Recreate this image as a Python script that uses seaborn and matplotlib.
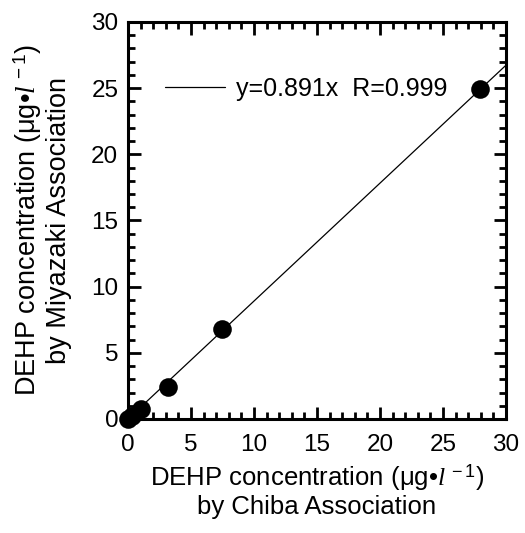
import matplotlib
matplotlib.use("Agg")
import matplotlib.pyplot as plt
import seaborn as sns
import numpy as np
import pandas as pd
from matplotlib.ticker import MultipleLocator

chiba = [0.0, 0.3, 1.0, 3.2, 7.5, 27.9]
miyazaki = [0.0, 0.25, 0.75, 2.45, 6.8, 24.9]
slope = 0.891
fit_x = [0.0, 30.0]
legend_label = "y=0.891x  R=0.999"
ticks = [0, 5, 10, 15, 20, 25, 30]

sns.set_theme(style="ticks")
plt.rcParams['font.family'] = ['Liberation Sans', 'DejaVu Sans']
plt.rcParams['mathtext.fontset'] = 'custom'
plt.rcParams['mathtext.rm'] = 'Liberation Sans'
plt.rcParams['mathtext.it'] = 'Liberation Serif:italic'
for k in ['text.color', 'axes.labelcolor', 'xtick.color', 'ytick.color', 'axes.edgecolor']:
    plt.rcParams[k] = 'black'

df = pd.DataFrame({"x": chiba, "y": miyazaki})
fit = pd.DataFrame({"x": fit_x, "y": [slope * v for v in fit_x]})

fig = plt.figure(figsize=(5.25, 5.33), dpi=100)
ax = fig.add_axes([0.2438, 0.2139, 0.72, 0.745])

sns.lineplot(data=fit, x="x", y="y", ax=ax, color="black", linewidth=0.9, label=legend_label)
sns.scatterplot(data=df, x="x", y="y", ax=ax, color="black", s=180, edgecolor="black", linewidth=0, zorder=5, clip_on=False)

ax.set_xlim(0, 30)
ax.set_ylim(0, 30)
ax.set_xticks(ticks)
ax.set_yticks(ticks)
ax.xaxis.set_minor_locator(MultipleLocator(1))
ax.yaxis.set_minor_locator(MultipleLocator(1))
ax.tick_params(which="both", direction="in", top=True, right=True, color="black", labelcolor="black", width=2)
ax.tick_params(which="major", length=9, labelsize=17.5)
ax.tick_params(axis="x", which="major", pad=11)
ax.tick_params(axis="y", which="major", pad=7)
ax.tick_params(which="minor", length=5)
for s in ax.spines.values():
    s.set_linewidth(2.2)
    s.set_color("black")

unit = r"($\mathrm{\mu}$g•$\it{l}$$^{\ -1}$)"
ax.set_xlabel("DEHP concentration " + unit + "\nby Chiba Association", fontsize=18.5, linespacing=1.12, labelpad=4, color="black")
ax.set_ylabel("DEHP concentration " + unit + "\nby Miyazaki Association", fontsize=19.5, linespacing=1.1, labelpad=14, color="black")

leg = ax.legend(loc="center left", bbox_to_anchor=(0.098, 0.831), frameon=False, fontsize=18,
                handlelength=2.4, handletextpad=0.45, borderpad=0, borderaxespad=0, labelcolor="black")

fig.savefig("out.png", dpi=100)
